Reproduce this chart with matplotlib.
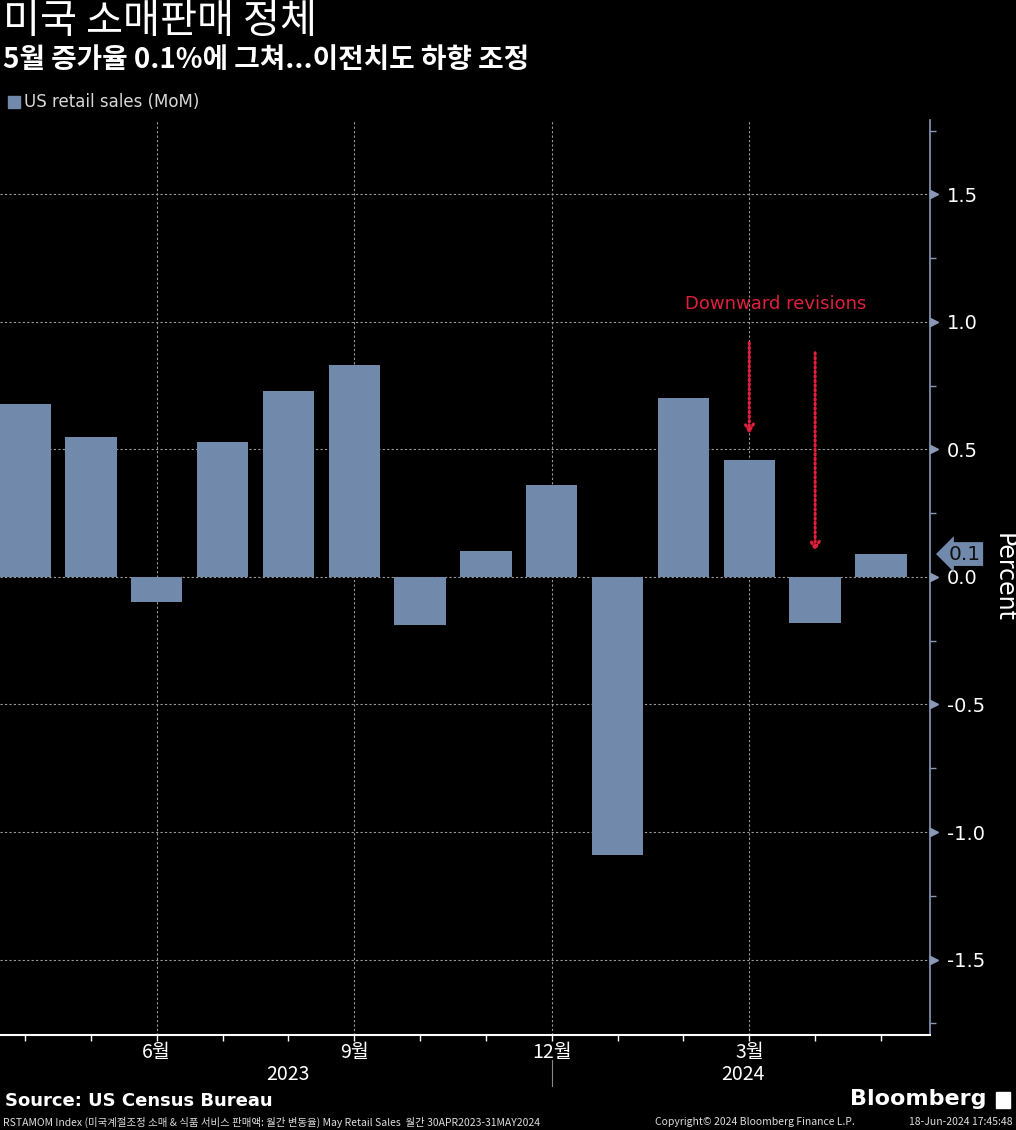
import matplotlib
matplotlib.use("Agg")
import matplotlib.pyplot as plt
import matplotlib.transforms as mtransforms
import numpy as np

plt.rcParams['font.family'] = ['Noto Sans CJK KR', 'DejaVu Sans']

# data : US retail sales MoM, Apr 2023 - May 2024
months = ["4월", "5월", "6월", "7월", "8월", "9월", "10월", "11월", "12월",
          "1월", "2월", "3월", "4월", "5월"]
values = [0.68, 0.55, -0.10, 0.53, 0.73, 0.83, -0.19, 0.10, 0.36,
          -1.09, 0.70, 0.46, -0.18, 0.09]
shown_months = ["6월", "9월", "12월", "3월"]
shown_idx = [2, 5, 8, 11]
years = ["2023", "2024"]
year_pos = [4, 10.9]

# revisions arrows : (month index, start, end)
rev_idx = [11, 12]
rev_start = [0.93, 0.89]
rev_end = [0.55, 0.09]

bar_color = "#7189ab"
axis_color = "#8a99b8"
red = "#e0203c"

fig = plt.figure(figsize=(10.16, 11.30), dpi=100, facecolor="black")
ax = fig.add_axes([0.0, 1 - 1035 / 1130, 930 / 1016, (1035 - 120) / 1130])
ax.set_facecolor("black")

x = np.arange(len(values))
ax.bar(x, values, width=0.78, color=bar_color, zorder=3)

ax.set_xlim(-0.38, 13.745)
ax.set_ylim(-1.796, 1.792)

# grid
for yv in [-1.5, -1.0, -0.5, 0.0, 0.5, 1.0, 1.5]:
    ax.axhline(yv, color="#9a9a9a", lw=0.8, ls=(0, (2, 2)), zorder=1)
for xi in shown_idx:
    ax.axvline(xi, color="#9a9a9a", lw=0.8, ls=(0, (2, 2)), zorder=1)

# spines
for s in ["left", "top"]:
    ax.spines[s].set_visible(False)
ax.spines["right"].set_color(axis_color)
ax.spines["right"].set_linewidth(1.2)
ax.spines["bottom"].set_color("white")
ax.spines["bottom"].set_linewidth(1.5)

# y axis on right
yt = [-1.5, -1.0, -0.5, 0.0, 0.5, 1.0, 1.5]
ax.yaxis.tick_right()
ax.set_yticks(yt)
ax.set_yticklabels([f"{v:.1f}" for v in yt], color="white", fontsize=14,
                   family=["DejaVu Sans"])
ax.tick_params(axis="y", length=0, pad=12)
ax.set_yticks(np.arange(-1.75, 1.8, 0.25), minor=True)
ax.tick_params(axis="y", which="minor", length=4, color=axis_color, width=1)
tr = mtransforms.blended_transform_factory(ax.transAxes, ax.transData)
ax.plot([1.004] * len(yt), yt, marker=">", ls="none", ms=6, color=axis_color,
        transform=tr, clip_on=False, zorder=5)

ax.yaxis.set_label_position("right")
ax.set_ylabel("Percent", color="white", fontsize=17, rotation=270,
              labelpad=22, family=["DejaVu Sans"])

# x axis
ax.set_xticks(x)
labels = [m if i in shown_idx else "" for i, m in enumerate(months)]
ax.set_xticklabels(labels, color="white", fontsize=14)
ax.tick_params(axis="x", length=4, color="white", width=1, pad=1)

trx = mtransforms.blended_transform_factory(ax.transData, fig.transFigure)
for yr, pos in zip(years, year_pos):
    fig.text(pos, 1 - 1075 / 1130, yr, transform=trx, color="white",
             fontsize=14, ha="center", va="center")
ax.plot([8, 8], [1 - 1060 / 1130, 1 - 1086 / 1130], color="#888888", lw=0.8,
        transform=trx, clip_on=False)

# latest value tag
ax.text(1.02, values[-1], f"{values[-1]:.1f}", transform=tr, fontsize=14.5,
        color="#111111", va="center", ha="left", family=["DejaVu Sans"],
        bbox=dict(boxstyle="larrow,pad=0.12", fc=bar_color, ec="none"),
        clip_on=False, zorder=6)

# revision arrows (dotted)
for xi, y0, y1 in zip(rev_idx, rev_start, rev_end):
    ax.annotate("", xy=(xi, y1), xytext=(xi, y0),
                arrowprops=dict(arrowstyle="->,head_length=0.5,head_width=0.3",
                                color=red, lw=2.2, ls=(0, (0.5, 1.0))),
                zorder=6)
ax.text(11.4, 1.07, "Downward revisions", color=red, fontsize=13,
        ha="center", va="center", family=["DejaVu Sans"])

# titles
fig.text(0.003, 1 - 21 / 1130, "미국 소매판매 정체", color="white",
         fontsize=29, va="center", ha="left")
fig.text(0.003, 1 - 60 / 1130, "5월 증가율 0.1%에 그쳐...이전치도 하향 조정",
         color="white", fontsize=20, fontweight="bold", va="center", ha="left")

# legend
fig.patches.append(plt.Rectangle((8 / 1016, 1 - 108 / 1130), 12 / 1016, 12 / 1130,
                                 transform=fig.transFigure, color=bar_color))
fig.text(24 / 1016, 1 - 102 / 1130, "US retail sales (MoM)", color="#d8d8d8",
         fontsize=12, va="center", ha="left", family=["DejaVu Sans"])

# footer
fig.text(5 / 1016, 1 - 1101 / 1130, "Source: US Census Bureau", color="white",
         fontsize=13, fontweight="bold", va="center", ha="left",
         family=["DejaVu Sans"])
fig.text(3 / 1016, 1 - 1122 / 1130,
         "RSTAMOM Index (미국계절조정 소매 & 식품 서비스 판매액: 월간 변동율) May Retail Sales  월간 30APR2023-31MAY2024",
         color="#dddddd", fontsize=7.5, va="center", ha="left")
fig.text(655 / 1016, 1 - 1122 / 1130, "Copyright© 2024 Bloomberg Finance L.P.",
         color="#dddddd", fontsize=7.5, va="center", ha="left")
fig.text(1013 / 1016, 1 - 1122 / 1130, "18-Jun-2024 17:45:48",
         color="#dddddd", fontsize=7.5, va="center", ha="right")
fig.text(986 / 1016, 1 - 1099 / 1130, "Bloomberg", color="white", fontsize=16,
         fontweight="bold", va="center", ha="right", family=["DejaVu Sans"])
fig.patches.append(plt.Rectangle((996 / 1016, 1 - 1108 / 1130), 14 / 1016, 16 / 1130,
                                 transform=fig.transFigure, color="white"))

fig.savefig("out.png", dpi=100, facecolor="black")
